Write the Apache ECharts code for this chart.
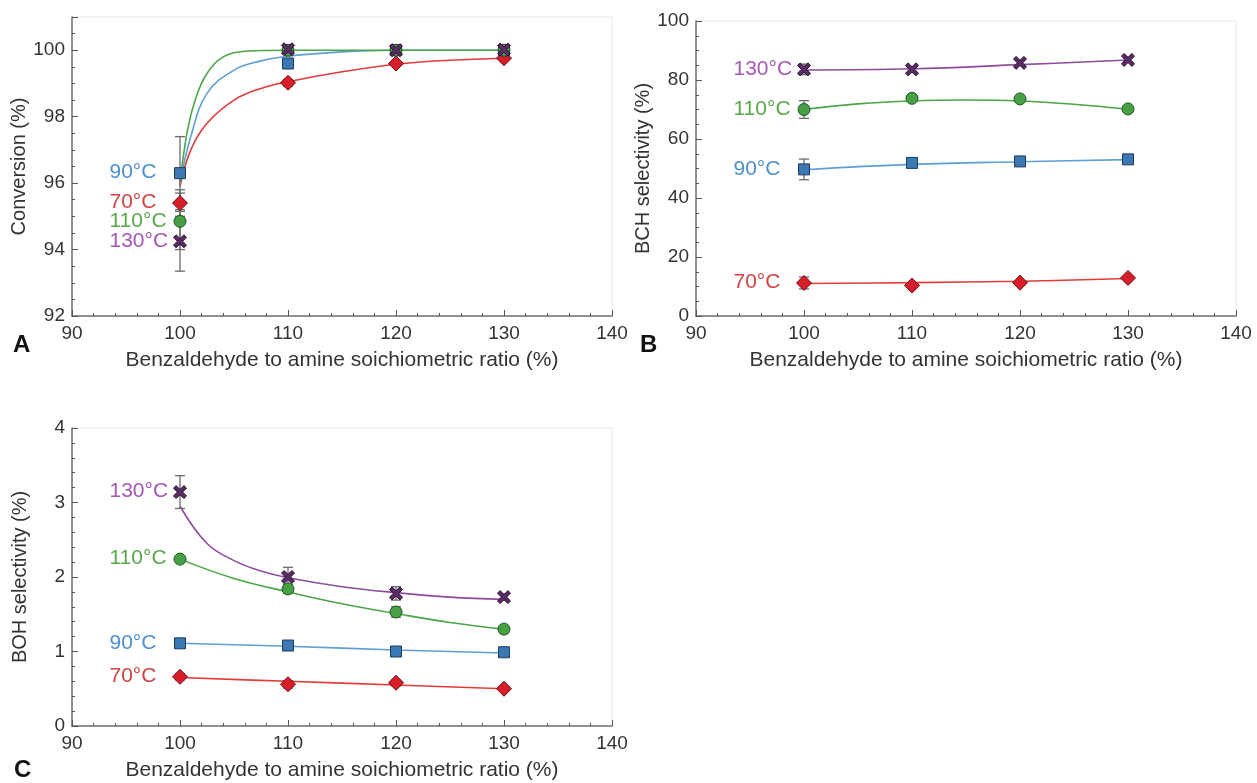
<!DOCTYPE html>
<html>
<head>
<meta charset="utf-8">
<script src="https://cdn.jsdelivr.net/npm/echarts@6/dist/echarts.min.js"></script>
<style>
  html, body { margin: 0; padding: 0; background: #fff; }
  #chart { width: 1257px; height: 783px; }
</style>
</head>
<body>
<div id="chart"></div>
<script>
// ---- shared axis data ----
const ratio = [100, 110, 120, 130];
const xTicks = [90, 100, 110, 120, 130, 140];
const xTitle = 'Benzaldehyde to amine soichiometric ratio (%)';
const tempNames = ['70°C', '90°C', '110°C', '130°C'];

// ---- A: conversion (%) ----
const convTicks = [92, 94, 96, 98, 100];
const convTop = 101;
const conv70 = [95.4, 99.02, 99.6, 99.76];
const conv90 = [96.3, 99.6, 100.0, 100.0];
const conv110 = [94.85, 100.0, 100.0, 100.0];
const conv130 = [94.25, 100.03, 100.0, 100.02];
const convErr70 = [0.4, 0.1, 0.05, 0.05];
const convErr90 = [1.1, 0.15, 0.05, 0.05];
const convErr110 = [0.85, 0.05, 0.05, 0.05];
const convErr130 = [0.9, 0.1, 0.05, 0.05];
// fitted curves
const convFitX70 = [100, 101, 102.5, 105, 107.5, 110, 115, 120, 125, 130];
const convFitY70 = [95.9, 97.0, 97.8, 98.5, 98.85, 99.05, 99.35, 99.58, 99.7, 99.76];
const convFitX90 = [100, 101, 102.5, 105, 107.5, 110, 115, 120, 130];
const convFitY90 = [96.0, 97.4, 98.7, 99.4, 99.68, 99.82, 99.95, 100.0, 100.0];
const convFitX110 = [100, 100.7, 101.5, 102.5, 104, 106, 110, 120, 130];
const convFitY110 = [96.0, 97.6, 98.6, 99.3, 99.8, 99.97, 100.0, 100.0, 100.0];

// ---- B: BCH selectivity (%) ----
const bchTicks = [0, 20, 40, 60, 80, 100];
const bch70 = [11.2, 10.3, 11.3, 12.9];
const bch90 = [49.7, 51.9, 52.4, 53.1];
const bch110 = [70.0, 73.8, 73.6, 70.2];
const bch130 = [83.6, 83.6, 85.8, 86.8];
const bchErr70 = [2.0, 0.8, 0.6, 0.6];
const bchErr90 = [3.5, 0.8, 0.6, 0.6];
const bchErr110 = [3.0, 1.0, 0.8, 0.6];
const bchErr130 = [1.8, 0.8, 0.8, 0.6];
const bchFitX = [100, 110, 120, 130];
const bchFit70 = [11.0, 11.3, 11.8, 12.7];
const bchFit90 = [49.6, 51.4, 52.3, 53.0];
const bchFit130 = [83.4, 83.8, 85.2, 86.8];
const bchFitX110 = [100, 105, 110, 115, 120, 125, 130];
const bchFit110 = [70.0, 71.9, 72.9, 73.2, 72.9, 71.8, 70.1];

// ---- C: BOH selectivity (%) ----
const bohTicks = [0, 1, 2, 3, 4];
const boh70 = [0.66, 0.56, 0.58, 0.50];
const boh90 = [1.11, 1.08, 1.00, 0.99];
const boh110 = [2.24, 1.84, 1.53, 1.30];
const boh130 = [3.14, 2.00, 1.78, 1.73];
const bohErr70 = [0.04, 0.05, 0.04, 0.03];
const bohErr90 = [0.03, 0.03, 0.03, 0.03];
const bohErr110 = [0.03, 0.06, 0.07, 0.03];
const bohErr130 = [0.22, 0.13, 0.09, 0.04];
const bohFitX70 = [100, 110, 120, 130];
const bohFit70 = [0.65, 0.60, 0.55, 0.50];
const bohFitX90 = [100, 110, 120, 130];
const bohFit90 = [1.11, 1.07, 1.02, 0.98];
const bohFitX110 = [100, 105, 110, 115, 120, 125, 130];
const bohFit110 = [2.24, 1.98, 1.80, 1.64, 1.51, 1.39, 1.30];
const bohFitX130 = [100, 102.5, 105, 107.5, 110, 115, 120, 125, 130];
const bohFit130 = [2.95, 2.45, 2.22, 2.08, 1.99, 1.87, 1.79, 1.73, 1.70];

// ---- styling ----
const FONT = '"Liberation Sans", Arial, Helvetica, sans-serif';
const XSHAPE = 'path://M2,0 L5,3 L8,0 L10,2 L7,5 L10,8 L8,10 L5,7 L2,10 L0,8 L3,5 L0,2 Z';
const STYLE = {
  '70°C':  { line: '#e33a3a', fill: '#d81e2a', edge: '#6a0f14', text: '#d04343', symbol: 'diamond', size: 15 },
  '90°C':  { line: '#5e9fd6', fill: '#3b78b4', edge: '#1d3c5c', text: '#4d8fd0', symbol: 'rect', size: 11 },
  '110°C': { line: '#4aa648', fill: '#48a045', edge: '#1e5520', text: '#5aa84c', symbol: 'circle', size: 12 },
  '130°C': { line: '#8e4d9c', fill: '#5a2c66', edge: '#2a1030', text: '#a658b6', symbol: XSHAPE, size: 13 }
};
const LABEL_LEFT = 70; // distance of tag's left edge from the first point, px

const GRIDS = [
  { left: 72, top: 17, width: 540, height: 299 },
  { left: 696, top: 21, width: 540, height: 295 },
  { left: 72, top: 428, width: 540, height: 298 }
];

function xAxisFor(gridIndex) {
  return {
    type: 'value', gridIndex,
    min: xTicks[0], max: xTicks[xTicks.length - 1], interval: xTicks[1] - xTicks[0],
    name: xTitle, nameLocation: 'middle', nameGap: 34,
    nameTextStyle: { fontFamily: FONT, fontSize: 21, color: '#333' },
    axisLine: { onZero: false, lineStyle: { color: '#707070', width: 1.5 } },
    axisTick: { inside: true, length: 6, lineStyle: { color: '#555', width: 1 } },
    minorTick: { show: true, splitNumber: 5, length: 3, lineStyle: { color: '#555', width: 1 } },
    axisLabel: { fontFamily: FONT, fontSize: 19, color: '#333', margin: 8 },
    splitLine: { show: false }
  };
}

function yAxisFor(gridIndex, ticks, top, minorSplit, title) {
  return {
    type: 'value', gridIndex,
    min: ticks[0], max: top, interval: ticks[1] - ticks[0],
    name: title, nameLocation: 'middle', nameGap: 42, nameRotate: 90,
    nameTextStyle: { fontFamily: FONT, fontSize: 20, color: '#333' },
    axisLine: { show: true, onZero: false, lineStyle: { color: '#707070', width: 1.5 } },
    axisTick: { show: true, inside: true, length: 6, lineStyle: { color: '#555', width: 1 } },
    minorTick: { show: true, splitNumber: minorSplit, length: 3, lineStyle: { color: '#555', width: 1 } },
    axisLabel: {
      fontFamily: FONT, fontSize: 19, color: '#333', margin: 7,
      formatter: v => (ticks.indexOf(v) >= 0 ? String(v) : '')
    },
    splitLine: { show: false }
  };
}

function fitSeries(panel, name, xs, ys) {
  const st = STYLE[name];
  return {
    type: 'line', name: name + ' fit', xAxisIndex: panel, yAxisIndex: panel,
    data: xs.map((x, i) => [x, ys[i]]),
    smooth: 0.4, showSymbol: false, symbol: 'none',
    lineStyle: { color: st.line, width: 1.6 }, z: 2, silent: true
  };
}

function pointSeries(panel, name, ys) {
  const st = STYLE[name];
  const half = st.size / 2;
  return {
    type: 'scatter', name, xAxisIndex: panel, yAxisIndex: panel,
    symbol: st.symbol, symbolSize: st.size,
    itemStyle: { color: st.fill, borderColor: st.edge, borderWidth: 1, opacity: 1 },
    data: ratio.map((x, i) => {
      const item = { value: [x, ys[i]] };
      if (i === 0) {
        item.label = {
          show: true, formatter: name,
          position: [-(LABEL_LEFT - half), half],
          align: 'left', verticalAlign: 'middle',
          fontFamily: FONT, fontSize: 21, color: st.text
        };
      }
      return item;
    }),
    z: 4
  };
}

function errorSeries(panel, ys, errs) {
  return {
    type: 'custom', xAxisIndex: panel, yAxisIndex: panel, z: 3, silent: true,
    data: ratio.map((x, i) => [x, ys[i] - errs[i], ys[i] + errs[i]]),
    encode: { x: 0, y: [1, 2] },
    renderItem: (params, api) => {
      const lo = api.coord([api.value(0), api.value(1)]);
      const hi = api.coord([api.value(0), api.value(2)]);
      const w = 5;
      const style = { stroke: '#6b6b6b', lineWidth: 1.3 };
      return {
        type: 'group',
        children: [
          { type: 'line', shape: { x1: lo[0], y1: lo[1], x2: hi[0], y2: hi[1] }, style },
          { type: 'line', shape: { x1: lo[0] - w, y1: lo[1], x2: lo[0] + w, y2: lo[1] }, style },
          { type: 'line', shape: { x1: hi[0] - w, y1: hi[1], x2: hi[0] + w, y2: hi[1] }, style }
        ]
      };
    }
  };
}

const series = [
  // A
  errorSeries(0, conv70, convErr70), errorSeries(0, conv90, convErr90),
  errorSeries(0, conv110, convErr110), errorSeries(0, conv130, convErr130),
  fitSeries(0, '70°C', convFitX70, convFitY70),
  fitSeries(0, '90°C', convFitX90, convFitY90),
  fitSeries(0, '110°C', convFitX110, convFitY110),
  pointSeries(0, '70°C', conv70), pointSeries(0, '90°C', conv90),
  pointSeries(0, '110°C', conv110), pointSeries(0, '130°C', conv130),
  // B
  errorSeries(1, bch70, bchErr70), errorSeries(1, bch90, bchErr90),
  errorSeries(1, bch110, bchErr110), errorSeries(1, bch130, bchErr130),
  fitSeries(1, '70°C', bchFitX, bchFit70), fitSeries(1, '90°C', bchFitX, bchFit90),
  fitSeries(1, '110°C', bchFitX110, bchFit110), fitSeries(1, '130°C', bchFitX, bchFit130),
  pointSeries(1, '70°C', bch70), pointSeries(1, '90°C', bch90),
  pointSeries(1, '110°C', bch110), pointSeries(1, '130°C', bch130),
  // C
  errorSeries(2, boh70, bohErr70), errorSeries(2, boh90, bohErr90),
  errorSeries(2, boh110, bohErr110), errorSeries(2, boh130, bohErr130),
  fitSeries(2, '70°C', bohFitX70, bohFit70), fitSeries(2, '90°C', bohFitX90, bohFit90),
  fitSeries(2, '110°C', bohFitX110, bohFit110), fitSeries(2, '130°C', bohFitX130, bohFit130),
  pointSeries(2, '70°C', boh70), pointSeries(2, '90°C', boh90),
  pointSeries(2, '110°C', boh110), pointSeries(2, '130°C', boh130)
];

const chart = echarts.init(document.getElementById('chart'), null, { renderer: 'canvas' });
chart.setOption({
  backgroundColor: '#ffffff',
  animation: false,
  grid: GRIDS.map(g => Object.assign({ show: true, borderColor: '#e8e8e8', borderWidth: 1, backgroundColor: 'transparent' }, g)),
  xAxis: [xAxisFor(0), xAxisFor(1), xAxisFor(2)],
  yAxis: [
    yAxisFor(0, convTicks, convTop, 4, 'Conversion (%)'),
    yAxisFor(1, bchTicks, bchTicks[bchTicks.length - 1], 4, 'BCH selectivity (%)'),
    yAxisFor(2, bohTicks, bohTicks[bohTicks.length - 1], 5, 'BOH selectivity (%)')
  ],
  graphic: [
    { type: 'text', left: 13, top: 333, style: { text: 'A', font: 'bold 24px ' + FONT, fill: '#111' } },
    { type: 'text', left: 640, top: 333, style: { text: 'B', font: 'bold 24px ' + FONT, fill: '#111' } },
    { type: 'text', left: 14, top: 758, style: { text: 'C', font: 'bold 24px ' + FONT, fill: '#111' } }
  ],
  series
});
</script>
</body>
</html>
